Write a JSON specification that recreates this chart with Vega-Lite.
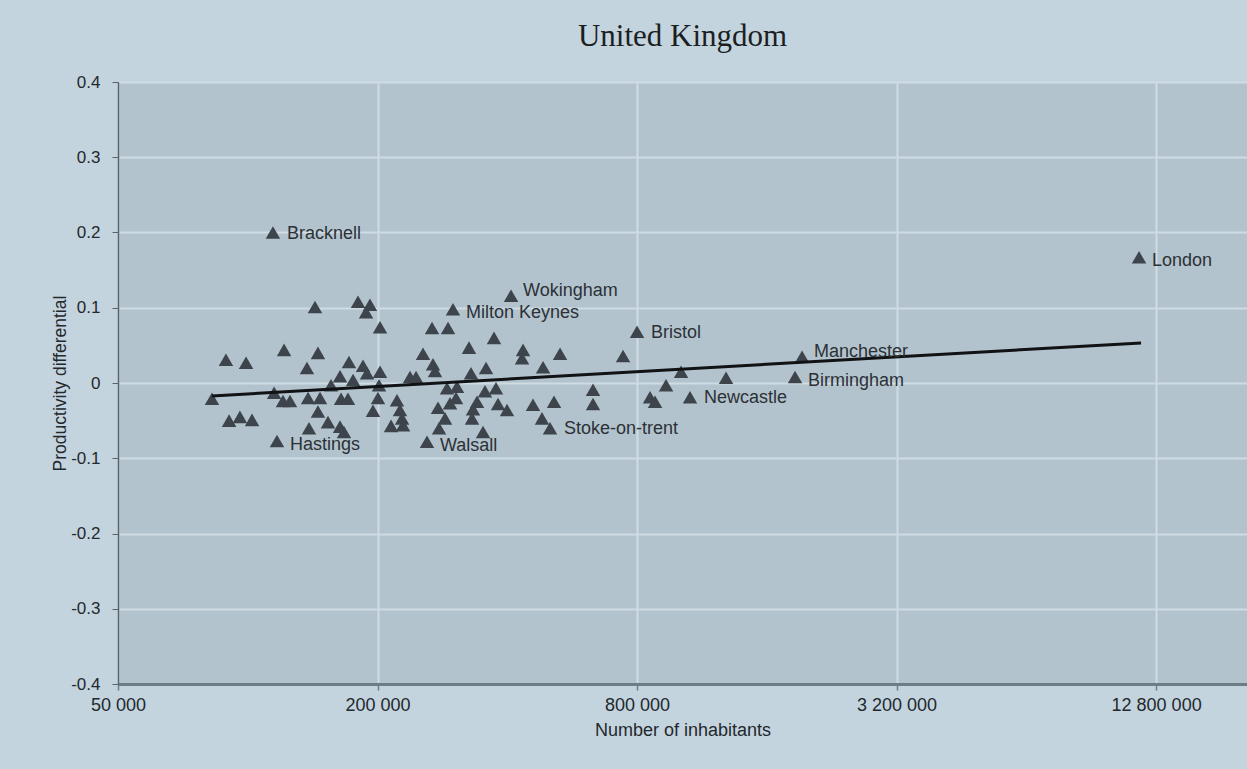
{
  "$schema": "https://vega.github.io/schema/vega-lite/v6.json",
  "width": 1129,
  "height": 602,
  "autosize": {"type": "none"},
  "padding": {"left": 118, "top": 82, "right": 0, "bottom": 85},
  "background": "#c3d4df",
  "title": {"text": "United Kingdom", "font": "Liberation Serif", "fontSize": 31, "fontWeight": "normal", "color": "#1c1f22", "offset": 20, "anchor": "middle"},
  "config": {
    "view": {"fill": "#b3c3cd", "stroke": null},
    "axis": {
      "grid": true, "gridColor": "#d0dce4", "gridWidth": 2,
      "labelFont": "Liberation Sans", "labelColor": "#23282c",
      "titleFont": "Liberation Sans", "titleFontWeight": "normal", "titleColor": "#23282c"
    }
  },
  "datasets": {
    "points": [
      {"pop": 82600, "pd": -0.021}, {"pop": 89000, "pd": 0.031}, {"pop": 99100, "pd": 0.027},
      {"pop": 90500, "pd": -0.05}, {"pop": 95900, "pd": -0.045}, {"pop": 102300, "pd": -0.049},
      {"pop": 114400, "pd": 0.2, "label": "Bracknell"}, {"pop": 116900, "pd": -0.077, "label": "Hastings"},
      {"pop": 115100, "pd": -0.013}, {"pop": 120700, "pd": -0.024}, {"pop": 125300, "pd": -0.024},
      {"pop": 121400, "pd": 0.044}, {"pop": 137200, "pd": 0.02}, {"pop": 138000, "pd": -0.02},
      {"pop": 138700, "pd": -0.06}, {"pop": 143200, "pd": 0.101}, {"pop": 145500, "pd": 0.04},
      {"pop": 147100, "pd": -0.02}, {"pop": 145500, "pd": -0.038}, {"pop": 153500, "pd": -0.052},
      {"pop": 156000, "pd": -0.003}, {"pop": 163700, "pd": 0.009}, {"pop": 171700, "pd": 0.028},
      {"pop": 164600, "pd": -0.021}, {"pop": 170800, "pd": -0.021}, {"pop": 163700, "pd": -0.058},
      {"pop": 167200, "pd": -0.065}, {"pop": 175500, "pd": 0.004}, {"pop": 180200, "pd": 0.108},
      {"pop": 192100, "pd": 0.104}, {"pop": 188100, "pd": 0.094}, {"pop": 185100, "pd": 0.023},
      {"pop": 189100, "pd": 0.013}, {"pop": 202700, "pd": 0.074}, {"pop": 202700, "pd": 0.015},
      {"pop": 201600, "pd": -0.003}, {"pop": 200500, "pd": -0.02}, {"pop": 195200, "pd": -0.037},
      {"pop": 221900, "pd": -0.023}, {"pop": 225500, "pd": -0.036}, {"pop": 228000, "pd": -0.047},
      {"pop": 215000, "pd": -0.057}, {"pop": 229200, "pd": -0.056}, {"pop": 237900, "pd": 0.008},
      {"pop": 245700, "pd": 0.008}, {"pop": 255000, "pd": 0.039}, {"pop": 267600, "pd": 0.073},
      {"pop": 291500, "pd": 0.073}, {"pop": 299300, "pd": 0.098, "label": "Milton Keynes"},
      {"pop": 269000, "pd": 0.025}, {"pop": 271900, "pd": 0.016}, {"pop": 260500, "pd": -0.078, "label": "Walsall"},
      {"pop": 277800, "pd": -0.06}, {"pop": 276300, "pd": -0.033}, {"pop": 289900, "pd": -0.007},
      {"pop": 286800, "pd": -0.047}, {"pop": 305800, "pd": -0.005}, {"pop": 326000, "pd": 0.047},
      {"pop": 329500, "pd": 0.013}, {"pop": 357100, "pd": 0.02}, {"pop": 372600, "pd": 0.06},
      {"pop": 351400, "pd": -0.065}, {"pop": 331300, "pd": -0.047}, {"pop": 340300, "pd": -0.025},
      {"pop": 355100, "pd": -0.011}, {"pop": 376600, "pd": -0.007}, {"pop": 333100, "pd": -0.035},
      {"pop": 294600, "pd": -0.027}, {"pop": 304200, "pd": -0.02}, {"pop": 380700, "pd": -0.028},
      {"pop": 399400, "pd": -0.036}, {"pop": 408100, "pd": 0.116, "label": "Wokingham"},
      {"pop": 435100, "pd": 0.044}, {"pop": 432800, "pd": 0.033}, {"pop": 484200, "pd": 0.021},
      {"pop": 458900, "pd": -0.029}, {"pop": 513400, "pd": -0.025}, {"pop": 481500, "pd": -0.047},
      {"pop": 502600, "pd": -0.06, "label": "Stoke-on-trent"}, {"pop": 530200, "pd": 0.039},
      {"pop": 632300, "pd": -0.009}, {"pop": 632300, "pd": -0.028}, {"pop": 742300, "pd": 0.036},
      {"pop": 800000, "pd": 0.068, "label": "Bristol"}, {"pop": 857500, "pd": -0.019},
      {"pop": 880700, "pd": -0.025}, {"pop": 934000, "pd": -0.003}, {"pop": 1011900, "pd": 0.015},
      {"pop": 1061700, "pd": -0.019, "label": "Newcastle"}, {"pop": 1286900, "pd": 0.007},
      {"pop": 1931500, "pd": 0.035, "label": "Manchester"}, {"pop": 1860500, "pd": 0.008, "label": "Birmingham"},
      {"pop": 11685000, "pd": 0.167, "label": "London"}
    ],
    "fit": [
      {"pop": 82600, "pd": -0.0173},
      {"pop": 11810000, "pd": 0.0532}
    ]
  },
  "encoding": {
    "x": {
      "field": "pop", "type": "quantitative",
      "scale": {"type": "log", "base": 4, "domain": [50000, 20800000], "nice": false},
      "axis": {
        "values": [50000, 200000, 800000, 3200000, 12800000],
        "labelExpr": "replace(format(datum.value, ','), regexp(',', 'g'), ' ')",
        "title": "Number of inhabitants",
        "labelFontSize": 18, "titleFontSize": 18,
        "domainColor": "#6d7d88", "domainWidth": 3,
        "tickColor": "#6d7d88", "tickSize": 6, "tickWidth": 1.5,
        "labelPadding": 6, "titlePadding": 7, "labelFlush": false
      }
    },
    "y": {
      "field": "pd", "type": "quantitative",
      "scale": {"domain": [-0.4, 0.4], "nice": false, "zero": false},
      "axis": {
        "values": [-0.4, -0.3, -0.2, -0.1, 0, 0.1, 0.2, 0.3, 0.4],
        "labelExpr": "toString(round(datum.value * 10) / 10)",
        "title": "Productivity differential",
        "labelFontSize": 17, "titleFontSize": 17.5,
        "domainColor": "#5a646b", "domainWidth": 1.5,
        "tickColor": "#5a646b", "tickSize": 6,
        "labelPadding": 12, "titlePadding": 1
      }
    }
  },
  "layer": [
    {
      "data": {"name": "points"},
      "mark": {"type": "point", "shape": "triangle-up", "filled": true, "size": 210, "color": "#3d444b", "opacity": 1}
    },
    {
      "data": {"name": "fit"},
      "mark": {"type": "line", "color": "#101214", "strokeWidth": 3}
    },
    {
      "data": {"name": "points"},
      "transform": [{"filter": "isValid(datum.label) && indexof(['Manchester', 'Wokingham'], datum.label) >= 0"}],
      "mark": {"type": "text", "align": "left", "baseline": "middle", "dx": 12, "dy": -5, "font": "Liberation Sans", "fontSize": 18, "color": "#2b3136"},
      "encoding": {"text": {"field": "label"}}
    },
    {
      "data": {"name": "points"},
      "transform": [{"filter": "isValid(datum.label) && indexof(['Walsall', 'Hastings', 'Milton Keynes', 'London', 'Birmingham'], datum.label) >= 0"}],
      "mark": {"type": "text", "align": "left", "baseline": "middle", "dx": 13, "dy": 4, "font": "Liberation Sans", "fontSize": 18, "color": "#2b3136"},
      "encoding": {"text": {"field": "label"}}
    },
    {
      "data": {"name": "points"},
      "transform": [{"filter": "isValid(datum.label) && indexof(['Manchester', 'Wokingham', 'Walsall', 'Hastings', 'Milton Keynes', 'London', 'Birmingham'], datum.label) < 0"}],
      "mark": {"type": "text", "align": "left", "baseline": "middle", "dx": 14, "dy": 1, "font": "Liberation Sans", "fontSize": 18, "color": "#2b3136"},
      "encoding": {"text": {"field": "label"}}
    }
  ]
}
